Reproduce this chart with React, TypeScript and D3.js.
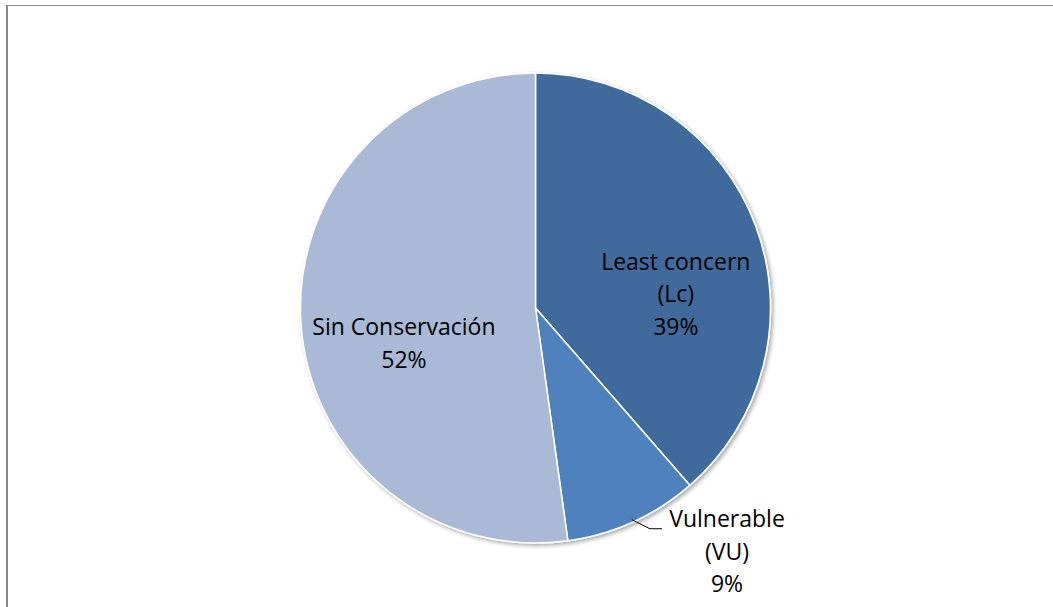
import React from "react";
import * as d3 from "d3";

const categories = ["Least concern (Lc)", "Vulnerable (VU)", "Sin Conservación"];
const values = [38.6, 9.2, 52.2];
const labelLines = [
  ["Least concern", "(Lc)", "39%"],
  ["Vulnerable", "(VU)", "9%"],
  ["Sin Conservación", "52%"],
];
const colors = ["#406A9C", "#4F81BD", "#AAB9D6"];

const W = 1053;
const H = 607;
const cx = 535.5;
const cy = 308;
const R = 235;
const FONT = "'Open Sans', sans-serif";
const FS = 23;
const LH = 32.5;

// label anchors relative to pie centre, in units of radius (layout only)
const labelAnchors = [
  { dx: 0.597, dy: -0.162 },
  { dx: 0.815, dy: 0.934 },
  { dx: -0.56, dy: 0.115 },
];

export default function App() {
  const pie = d3
    .pie<number>()
    .sort(null)
    .value((d) => d)
    .startAngle(0)
    .endAngle(2 * Math.PI);
  const arcs = pie(values);
  const arc = d3.arc<d3.PieArcDatum<number>>().innerRadius(0).outerRadius(R);

  // leader for VU
  const vu = arcs[1];
  const mid = (vu.startAngle + vu.endAngle) / 2;
  const p0: [number, number] = [Math.sin(mid) * R * 0.99, -Math.cos(mid) * R * 0.99];
  const p1: [number, number] = [p0[0] + 18, p0[1] + 9];
  const p2: [number, number] = [p1[0] + 12, p1[1]];
  const leader = d3.line()([p0, p1, p2]);

  return (
    <svg
      width={W}
      height={H}
      style={{ position: "absolute", left: 0, top: 0, background: "#fff" }}
    >
      <defs>
        <filter id="sh" x="-10%" y="-10%" width="120%" height="120%">
          <feGaussianBlur in="SourceAlpha" stdDeviation="2" />
          <feOffset dx="1.5" dy="1.5" result="b" />
          <feComponentTransfer>
            <feFuncA type="linear" slope="0.35" />
          </feComponentTransfer>
          <feMerge>
            <feMergeNode />
            <feMergeNode in="SourceGraphic" />
          </feMerge>
        </filter>
      </defs>
      <line x1={7} y1={5.5} x2={W} y2={5.5} stroke="#888" strokeWidth={1.2} />
      <line x1={7} y1={5} x2={7} y2={H} stroke="#888" strokeWidth={2} />
      <g transform={`translate(${cx},${cy})`}>
        <g filter="url(#sh)">
          {arcs.map((a, i) => (
            <path
              key={categories[i]}
              d={arc(a) || ""}
              fill={colors[i]}
              stroke="#fff"
              strokeWidth={1.5}
            />
          ))}
        </g>
        <path d={leader || ""} fill="none" stroke="#000" strokeWidth={1} />
        {labelLines.map((lines, i) => (
          <text
            key={i}
            x={labelAnchors[i].dx * R}
            y={labelAnchors[i].dy * R}
            textAnchor="middle"
            fontFamily={FONT}
            fontSize={FS}
            fill="#000"
          >
            {lines.map((l, j) => (
              <tspan key={j} x={labelAnchors[i].dx * R} dy={j === 0 ? 0 : LH}>
                {l}
              </tspan>
            ))}
          </text>
        ))}
      </g>
    </svg>
  );
}
